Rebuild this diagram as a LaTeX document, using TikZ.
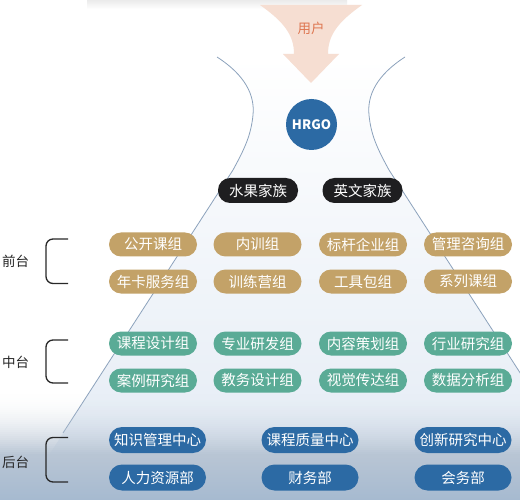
\documentclass[tikz,border=0pt]{standalone}
\usepackage{fontspec}
\setmainfont{Noto Sans CJK SC}
\usepackage{tikz}
\usepackage{xcolor}
\definecolor{goldpill}{RGB}{195, 162, 104}
\definecolor{greenpill}{RGB}{90, 171, 150}
\definecolor{bluepill}{RGB}{44, 106, 164}
\definecolor{nightpill}{RGB}{30, 30, 32}
\definecolor{userorange}{RGB}{222, 118, 80}
\definecolor{peach}{RGB}{246, 222, 210}
\definecolor{outlineblue}{RGB}{140, 162, 188}
\definecolor{hazeblue}{RGB}{226, 234, 244}
\definecolor{bandblue}{RGB}{184, 197, 212}
\definecolor{deepband}{RGB}{166, 186, 208}
\definecolor{bracketgray}{RGB}{40, 40, 40}

\tikzset{
  pill/.style={rounded corners=12pt, minimum height=24pt, text=white,
    inner sep=0pt, font=\fontsize{14.5}{14.5}\selectfont},
  goldbox/.style={pill, fill=goldpill, minimum width=88pt},
  greenbox/.style={pill, fill=greenpill, minimum width=88pt},
  bluebox/.style={pill, fill=bluepill, minimum width=97pt, minimum height=26pt, rounded corners=13pt},
  familybox/.style={pill, fill=nightpill, minimum width=80pt, minimum height=25pt},
  tierlabel/.style={font=\fontsize{13.5}{14}\selectfont, text=black!85},
  tierbracket/.style={draw=bracketgray, line width=1.3pt, rounded corners=7pt}
}

\begin{document}
\begin{tikzpicture}[x=1pt, y=-1pt]
        \useasboundingbox (0,0) rectangle (520,500);
        \fill[white] (0,0) rectangle (520,500);
        % shadow of the card above
        \shade[top color=black!8, bottom color=white] (87,0) rectangle (347,9);
        \begin{scope}
          \clip (0,0) rectangle (520,500);
          % the bell shaped hill
          \shade[top color=white, middle color=hazeblue!70, bottom color=hazeblue]
            (217,57) .. controls (245,75) and (255,95) .. (253,115)
            .. controls (251,135) and (245,148) .. (233,170) -- (20,500)
            -- (602,500) -- (389,170)
            .. controls (377,148) and (371,135) .. (369,115)
            .. controls (367,95) and (377,75) .. (405,57) -- cycle;
          \draw[outlineblue, line width=0.8pt]
            (217,57) .. controls (245,75) and (255,95) .. (253,115)
            .. controls (251,135) and (245,148) .. (233,170) -- (63,433);
          \draw[outlineblue, line width=0.8pt]
            (405,57) .. controls (377,75) and (367,95) .. (369,115)
            .. controls (371,135) and (377,148) .. (389,170) -- (559,433);
          % haze at the foot
          \foreach \i in {1,...,32}
            \fill[bandblue, opacity=(\i/32)^2] (0,390+2*\i) rectangle (520,392.2+2*\i);
          \shade[top color=bandblue, bottom color=deepband] (0,456) rectangle (520,500);
        \end{scope}
        % arrow of the users
        \fill[peach]
          (260,5) .. controls (284,22) and (294,35) .. (294,54) -- (283,54) -- (311,83)
          -- (339,54) -- (328,54) .. controls (328,35) and (338,22) .. (362,5) -- cycle;
        \node[text=userorange, font=\fontsize{13.5}{13.5}\selectfont] (user) at (311,28) {用户};
        \node[circle, fill=bluepill, minimum size=51pt, inner sep=0pt, text=white,
          font=\fontsize{13}{13}\selectfont\bfseries] (hrgo) at (311.5,124.5) {HRGO};
        % families
        \node[familybox] (fruit) at (258,190.5) {水果家族};
        \node[familybox] (english) at (362.5,190.5) {英文家族};
        % front tier
        \node[goldbox] (open) at (153,244.5) {公开课组};
        \node[goldbox] (inhouse) at (257.5,244.5) {内训组};
        \node[goldbox] (bench) at (363,244.5) {标杆企业组};
        \node[goldbox] (consult) at (468,244.5) {管理咨询组};
        \node[goldbox] (annual) at (153,281.5) {年卡服务组};
        \node[goldbox] (camp) at (257.5,281.5) {训练营组};
        \node[goldbox] (toolkit) at (363,281.5) {工具包组};
        \node[goldbox] (series) at (468,281.5) {系列课组};
        % middle tier
        \node[greenbox] (design) at (153,343.5) {课程设计组};
        \node[greenbox] (rnd) at (257.5,343.5) {专业研发组};
        \node[greenbox] (content) at (363,343.5) {内容策划组};
        \node[greenbox] (industry) at (468,343.5) {行业研究组};
        \node[greenbox] (cases) at (153,380.5) {案例研究组};
        \node[greenbox] (academic) at (257.5,380.5) {教务设计组};
        \node[greenbox] (visual) at (363,380.5) {视觉传达组};
        \node[greenbox] (data) at (468,380.5) {数据分析组};
        % back tier
        \node[bluebox] (knowledge) at (157.5,440) {知识管理中心};
        \node[bluebox] (quality) at (310,440) {课程质量中心};
        \node[bluebox] (innovate) at (463,440) {创新研究中心};
        \node[bluebox] (hr) at (157.5,477.5) {人力资源部};
        \node[bluebox] (finance) at (310,477.5) {财务部};
        \node[bluebox] (affairs) at (463,477.5) {会务部};
        % tier labels
        \node[tierlabel] (front) at (15.5,261) {前台};
        \node[tierlabel] (middle) at (15.5,362) {中台};
        \node[tierlabel] (back) at (15.5,462) {后台};
        \draw[tierbracket] (68,239) -| (46,283.5) -- (68,283.5);
        \draw[tierbracket] (68,340) -| (46,383) -- (68,383);
        \draw[tierbracket] (68,437.5) -| (46,482) -- (68,482);
      \end{tikzpicture}
\end{document}
